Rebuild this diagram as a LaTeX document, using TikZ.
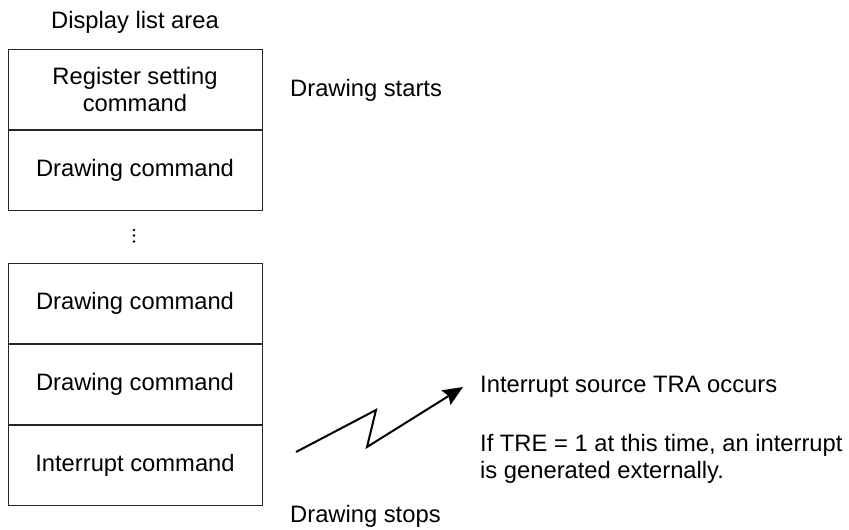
\documentclass[tikz,border=0pt]{standalone}
\usepackage{fontspec}
\setmainfont{Liberation Sans}
\usetikzlibrary{positioning,arrows.meta}

\tikzset{
  cmdbox/.style={draw=black!85, line width=1pt, minimum width=254pt, minimum height=80pt,
    inner sep=0pt, align=center, font=\fontsize{23.75}{26.5}\selectfont},
  note/.style={inner sep=0pt, anchor=base west, align=left, font=\fontsize{23.75}{26.5}\selectfont}
}

\begin{document}
\begin{tikzpicture}[x=1pt,y=-1pt]
  \useasboundingbox (0,0) rectangle (849,530);
  \node [cmdbox] (reg) at (135,89.5) {Register setting\\command};
  \node [cmdbox, below=0pt of reg] (draw1) {Drawing command};
  \node [cmdbox] (draw2) at (135,303) {Drawing command};
  \node [cmdbox, below=0pt of draw2] (draw3) {Drawing command};
  \node [cmdbox, below=0pt of draw3] (intr) {Interrupt command};
  \node [note, anchor=base] (area) at (135,28) {Display list area};
  \node [note] (starts) at (290,96) {Drawing starts};
  \node [note] (stops) at (290,522) {Drawing stops};
  \node [note] (tra) at (480,392) {Interrupt source TRA occurs};
  \node [note] (tre) at (480,478) {If TRE = 1 at this time, an interrupt\\is generated externally.};
  \foreach \y in {230,235.5,241.5}
    \fill [black] (134,\y) circle [radius=1.4];
  \coordinate (zs) at (296,452);
  \coordinate (zk1) at (376,410);
  \coordinate (zk2) at (367,447);
  \coordinate (ze) at (463,387);
  \draw [black, line width=2pt, -{Stealth[length=20pt,width=17pt,inset=3pt]}]
    (zs) -- (zk1) -- (zk2) -- (ze);
\end{tikzpicture}
\end{document}
